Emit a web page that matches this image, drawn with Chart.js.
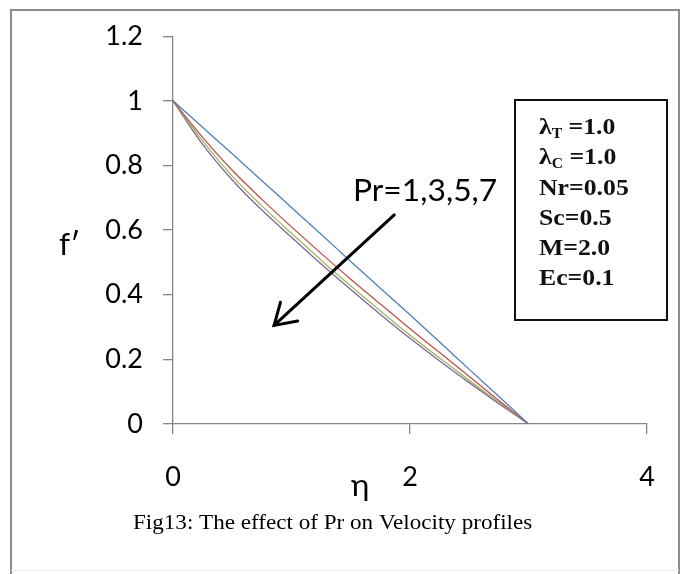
<!DOCTYPE html>
<html><head><meta charset="utf-8">
<script src="https://cdn.jsdelivr.net/npm/chart.js@4/dist/chart.umd.min.js"></script>
<style>html,body{margin:0;padding:0;background:#fff}canvas{display:block}</style>
</head><body>
<canvas id="c" width="685" height="574"></canvas>
<script>
// ---- data ----
const eta  = [0, 0.25, 0.5, 0.75, 1, 1.25, 1.5, 1.75, 2, 2.25, 2.5, 2.75, 3];
const fPr1 = [1, 0.918, 0.836, 0.753, 0.670, 0.587, 0.503, 0.420, 0.338, 0.254, 0.169, 0.085, 0];
const fPr3 = [1, 0.887, 0.785, 0.695, 0.610, 0.528, 0.448, 0.371, 0.295, 0.221, 0.147, 0.073, 0];
const fPr5 = [1, 0.876, 0.767, 0.675, 0.590, 0.507, 0.427, 0.350, 0.275, 0.204, 0.135, 0.067, 0];
const fPr7 = [1, 0.865, 0.755, 0.662, 0.578, 0.495, 0.416, 0.339, 0.265, 0.195, 0.128, 0.063, 0];
const seriesNames = ['Pr=1', 'Pr=3', 'Pr=5', 'Pr=7'];
const seriesColors = ['#4F81BD', '#C0504D', '#9BBB59', '#8064A2'];
const xTickLabels = ['0', '2', '4'];
const yTickLabels = ['0', '0.2', '0.4', '0.6', '0.8', '1', '1.2'];
const paramSymbols = ['\u03BB', '\u03BB', 'Nr', 'Sc', 'M', 'Ec'];
const paramSubs    = ['T', 'C', '', '', '', ''];
const paramValues  = [' =1.0', ' =1.0', '=0.05', '=0.5', '=2.0', '=0.1'];
const arrowLabel = 'Pr=1,3,5,7';
const arrowTail = {x: 1.867, y: 0.647};
const arrowTip  = {x: 0.853, y: 0.305};
const yTitle = 'f\u2032';
const xTitle = '\u03B7';
const caption = 'Fig13: The effect of Pr on Velocity profiles';

const allSeries = [fPr1, fPr3, fPr5, fPr7];
const datasets = allSeries.map((s, i) => ({
  label: seriesNames[i],
  data: eta.map((e, k) => ({x: e, y: s[k]})),
  borderColor: seriesColors[i],
  borderWidth: 1.3,
  pointRadius: 0,
  fill: false,
  cubicInterpolationMode: 'monotone'
}));

function stretchText(ctx, text, x, y, sx) {
  ctx.save();
  ctx.translate(x, y);
  ctx.scale(sx, 1);
  ctx.fillText(text, 0, 0);
  ctx.restore();
}

const decor = {
  id: 'decor',
  afterDraw(chart) {
    const ctx = chart.ctx;
    const xs = chart.scales.x, ys = chart.scales.y;
    ctx.save();
    // outer frame
    ctx.strokeStyle = '#8c8c8c';
    ctx.lineWidth = 2;
    ctx.beginPath();
    ctx.moveTo(11, 574); ctx.lineTo(11, 10); ctx.lineTo(679, 10); ctx.lineTo(679, 574);
    ctx.stroke();
    ctx.strokeStyle = '#eeeeee';
    ctx.lineWidth = 1;
    ctx.beginPath(); ctx.moveTo(11, 570.5); ctx.lineTo(679, 570.5); ctx.stroke();

    // axis titles
    ctx.fillStyle = '#000';
    ctx.textBaseline = 'alphabetic';
    ctx.textAlign = 'left';
    ctx.font = '30px Lato';
    stretchText(ctx, yTitle, 59, 255, 1.05);
    stretchText(ctx, xTitle, 351, 496, 1.05);

    // caption
    ctx.font = '21px "Liberation Serif"';
    stretchText(ctx, caption, 133, 529, 1.1);

    // arrow label
    ctx.font = '30px Lato';
    stretchText(ctx, arrowLabel, 353, 201, 1.06);

    // arrow
    const tx = xs.getPixelForValue(arrowTail.x), ty = ys.getPixelForValue(arrowTail.y);
    const hx = xs.getPixelForValue(arrowTip.x), hy = ys.getPixelForValue(arrowTip.y);
    ctx.strokeStyle = '#000';
    ctx.lineWidth = 3;
    ctx.lineCap = 'round';
    ctx.beginPath(); ctx.moveTo(tx, ty); ctx.lineTo(hx, hy); ctx.stroke();
    const ang = Math.atan2(ty - hy, tx - hx);
    const L = 24, da = 32 * Math.PI / 180;
    ctx.beginPath();
    ctx.moveTo(hx + L * Math.cos(ang - da), hy + L * Math.sin(ang - da));
    ctx.lineTo(hx, hy);
    ctx.lineTo(hx + L * Math.cos(ang + da), hy + L * Math.sin(ang + da));
    ctx.stroke();

    // parameter box
    ctx.lineCap = 'butt';
    ctx.lineWidth = 2;
    ctx.strokeStyle = '#111';
    ctx.strokeRect(515, 100, 152, 220);
    const baselines = [134, 163.5, 195, 225, 254.5, 284.5];
    for (let i = 0; i < paramSymbols.length; i++) {
      ctx.save();
      ctx.translate(539, baselines[i]);
      ctx.scale(1.12, 1);
      ctx.font = 'bold 23px "Liberation Serif"';
      ctx.fillStyle = '#111';
      ctx.textAlign = 'left';
      let x = 0;
      ctx.fillText(paramSymbols[i], x, 0);
      x += ctx.measureText(paramSymbols[i]).width;
      if (paramSubs[i]) {
        ctx.font = 'bold 14px "Liberation Serif"';
        ctx.fillText(paramSubs[i], x, 4);
        x += ctx.measureText(paramSubs[i]).width;
        ctx.font = 'bold 23px "Liberation Serif"';
      }
      ctx.fillText(paramValues[i], x, 0);
      ctx.restore();
    }
    ctx.restore();
  }
};

new Chart(document.getElementById('c'), {
  type: 'line',
  data: {datasets},
  options: {
    responsive: false,
    devicePixelRatio: 1,
    animation: false,
    layout: {padding: {top: 36, right: 38, bottom: 0, left: 0}},
    plugins: {legend: {display: false}, tooltip: {enabled: false}},
    scales: {
      x: {
        type: 'linear', min: 0, max: 4,
        afterFit: s => { s.height = 150; },
        ticks: {stepSize: 2, padding: 27, color: '#000', font: {family: 'Lato', size: 27},
                maxRotation: 0, callback: (v, i) => xTickLabels[i]},
        grid: {drawOnChartArea: false, drawTicks: true, tickLength: 10, color: '#868686', lineWidth: 1.3},
        border: {display: true, color: '#868686', width: 1.3}
      },
      y: {
        type: 'linear', min: 0, max: 1.2,
        afterFit: s => { s.width = 173; },
        ticks: {stepSize: 0.2, padding: 20, color: '#000', font: {family: 'Lato', size: 27},
                callback: (v, i) => yTickLabels[i]},
        grid: {drawOnChartArea: false, drawTicks: true, tickLength: 10, color: '#868686', lineWidth: 1.3},
        border: {display: true, color: '#868686', width: 1.3}
      }
    }
  },
  plugins: [decor]
});
</script>
</body></html>
